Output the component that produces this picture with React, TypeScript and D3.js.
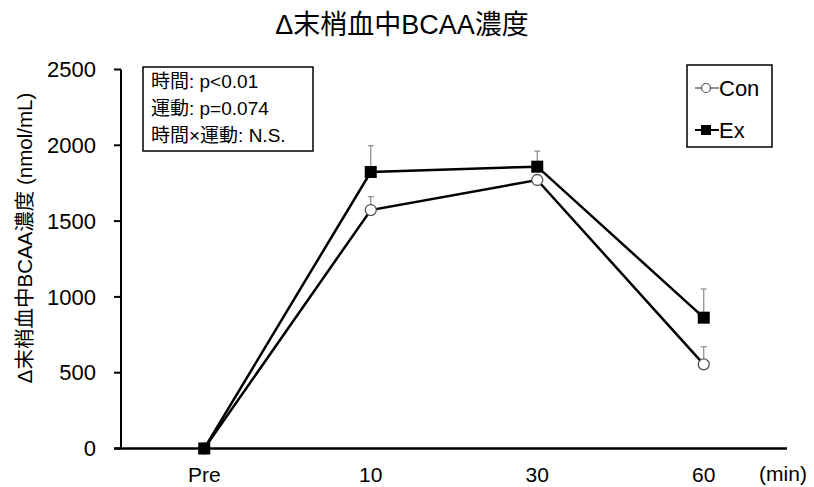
import React from "react";
import * as d3 from "d3";

const categories = ["Pre", "10", "30", "60"];
const conMean = [0, 1573, 1771, 555];
const conSE = [0, 88, 0, 116];
const exMean = [0, 1824, 1859, 863];
const exSE = [0, 173, 103, 189];
const yTicks = [0, 500, 1000, 1500, 2000, 2500];
const statsLines = ["時間: p<0.01", "運動: p=0.074", "時間×運動: N.S."];
const legendLabels = ["Con", "Ex"];

const FONT = "'Liberation Sans', Arial, 'Noto Sans CJK JP', sans-serif";

export default function App() {
  const W = 814, H = 487;
  const left = 121, right = 787, top = 69.5, bottom = 448.5;
  const x = d3.scalePoint<string>().domain(categories).range([left, right]).padding(0.5);
  const y = d3.scaleLinear().domain([0, 2500]).range([bottom, top]);
  const line = d3.line<number>().x((_, i) => x(categories[i])!).y((d) => y(d));

  const errBars = (means: number[], ses: number[], key: string) =>
    means.map((m, i) =>
      ses[i] > 0 ? (
        <g key={key + i} stroke="#888" strokeWidth={1.2}>
          <line x1={x(categories[i])} x2={x(categories[i])} y1={y(m)} y2={y(m + ses[i])} />
          <line x1={x(categories[i])! - 3} x2={x(categories[i])! + 3} y1={y(m + ses[i])} y2={y(m + ses[i])} />
        </g>
      ) : null
    );

  return (
    <svg width={W} height={H} style={{ position: "absolute", left: 0, top: 0, background: "#fff" }} fontFamily={FONT}>
      <rect width={W} height={H} fill="#fff" />
      <text x={402} y={25} dy="0.35em" textAnchor="middle" fontSize={27} fill="#000">Δ末梢血中BCAA濃度</text>

      {/* y axis */}
      <line x1={left} x2={left} y1={top} y2={bottom} stroke="#000" strokeWidth={2} />
      {yTicks.map((t) => (
        <g key={t}>
          <line x1={114} x2={left} y1={y(t)} y2={y(t)} stroke="#000" strokeWidth={2} />
          <text x={96} y={y(t)} dy="0.35em" textAnchor="end" fontSize={22} fill="#000">{t}</text>
        </g>
      ))}
      <text transform={`translate(32,238) rotate(-90)`} textAnchor="middle" fontSize={20.5} fill="#000">Δ末梢血中BCAA濃度 (nmol/mL)</text>

      {/* x axis */}
      <line x1={114} x2={right} y1={bottom} y2={bottom} stroke="#000" strokeWidth={2.5} />
      {categories.map((c) => (
        <text key={c} x={x(c)} y={482} textAnchor="middle" fontSize={21} fill="#000">{c}</text>
      ))}
      <text x={783} y={481} textAnchor="middle" fontSize={21} fill="#000">(min)</text>

      {/* error bars */}
      {errBars(conMean, conSE, "c")}
      {errBars(exMean, exSE, "e")}

      {/* lines */}
      <path d={line(conMean)!} fill="none" stroke="#000" strokeWidth={2.5} />
      <path d={line(exMean)!} fill="none" stroke="#000" strokeWidth={2.5} />

      {/* markers */}
      {conMean.map((m, i) => (
        <circle key={"cm" + i} cx={x(categories[i])} cy={y(m)} r={5.5} fill="#fff" stroke="#555" strokeWidth={1.3} />
      ))}
      {exMean.map((m, i) => (
        <rect key={"em" + i} x={x(categories[i])! - 6} y={y(m) - 6} width={12} height={12} fill="#000" />
      ))}

      {/* stats box */}
      <rect x={143} y={67} width={170} height={84} fill="#fff" stroke="#000" strokeWidth={1.5} />
      {statsLines.map((s, i) => (
        <text key={s} x={151} y={81 + i * 27} dy="0.35em" fontSize={19} fill="#000">{s}</text>
      ))}

      {/* legend */}
      <rect x={687} y={65} width={85} height={82} fill="#fff" stroke="#000" strokeWidth={1.5} />
      <line x1={695} x2={719} y1={88} y2={88} stroke="#555" strokeWidth={1.3} />
      <circle cx={706} cy={88} r={4.5} fill="#fff" stroke="#555" strokeWidth={1.2} />
      <text x={719} y={88} dy="0.35em" fontSize={22} fill="#000">{legendLabels[0]}</text>
      <line x1={695} x2={719} y1={130} y2={130} stroke="#000" strokeWidth={2} />
      <rect x={701} y={125} width={10} height={10} fill="#000" />
      <text x={719} y={130} dy="0.35em" fontSize={22} fill="#000">{legendLabels[1]}</text>
    </svg>
  );
}
